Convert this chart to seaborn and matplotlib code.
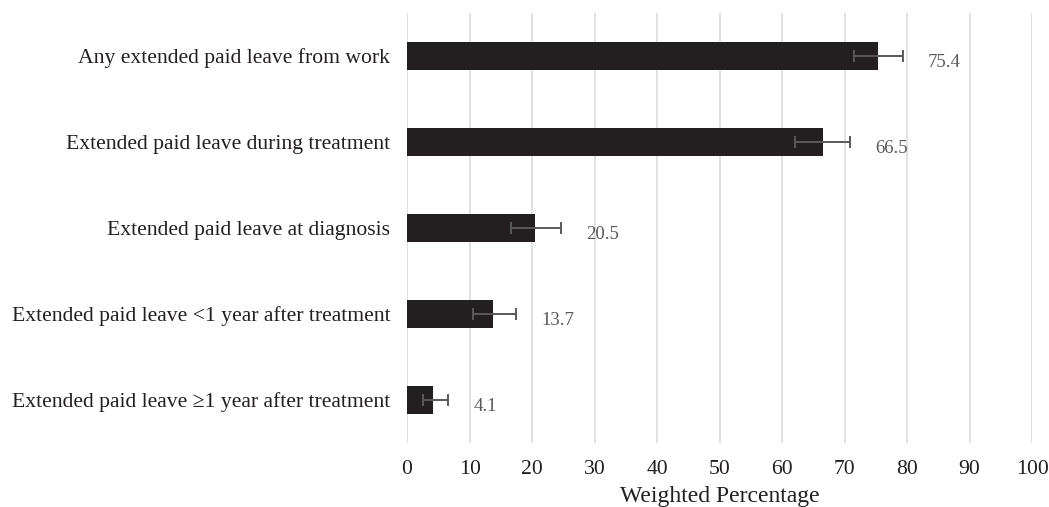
import matplotlib
matplotlib.use("Agg")
import matplotlib.pyplot as plt
import seaborn as sns
import pandas as pd

categories = [
    "Any extended paid leave from work",
    "Extended paid leave during treatment",
    "Extended paid leave at diagnosis",
    "Extended paid leave <1 year after treatment",
    "Extended paid leave \u22651 year after treatment",
]
values = [75.4, 66.5, 20.5, 13.7, 4.1]
ci_lower = [71.5, 62.1, 16.7, 10.6, 2.5]
ci_upper = [79.3, 70.9, 24.7, 17.5, 6.6]
xticks = [0, 10, 20, 30, 40, 50, 60, 70, 80, 90, 100]

sns.set_theme(style="white")
plt.rcParams["font.family"] = ["Liberation Serif", "DejaVu Serif"]

df = pd.DataFrame({"cat": categories, "val": values})

fig = plt.figure(figsize=(10.49, 5.07), dpi=100)
ax = fig.add_axes([407 / 1049, 1 - 443 / 507, 625 / 1049, 430 / 507])

sns.barplot(data=df, y="cat", x="val", orient="h", color="#231f20",
            saturation=1, width=0.33, linewidth=0, ax=ax, zorder=3)

ypos = list(range(len(categories)))
xerr = [[v - lo for v, lo in zip(values, ci_lower)],
        [hi - v for v, hi in zip(values, ci_upper)]]
ax.errorbar(values, ypos, xerr=xerr, fmt="none", ecolor="#595959",
            elinewidth=1.4, capsize=4, capthick=1.4, zorder=4)

for y, hi, v in zip(ypos, ci_upper, values):
    ax.text(hi + 4.0, y + 0.07, f"{v:.1f}", va="center", ha="left",
            fontsize=13.5, color="#595959")

ax.set_xlim(0, 100)
ax.set_ylim(4.5, -0.5)
ax.set_xticks(xticks)
ax.set_xticklabels([str(t) for t in xticks])
ax.grid(axis="x", color="#d9d9d9", linewidth=1.1, zorder=0)
ax.grid(axis="y", visible=False)
for s in ax.spines.values():
    s.set_visible(False)
ax.tick_params(axis="both", length=0, labelsize=15.6, colors="#231f20")
ax.tick_params(axis="x", pad=12)
ax.tick_params(axis="y", pad=12)
ax.set_ylabel("")
ax.set_xlabel("Weighted Percentage", fontsize=17, color="#231f20", labelpad=5)

fig.savefig("out.png", dpi=100)
